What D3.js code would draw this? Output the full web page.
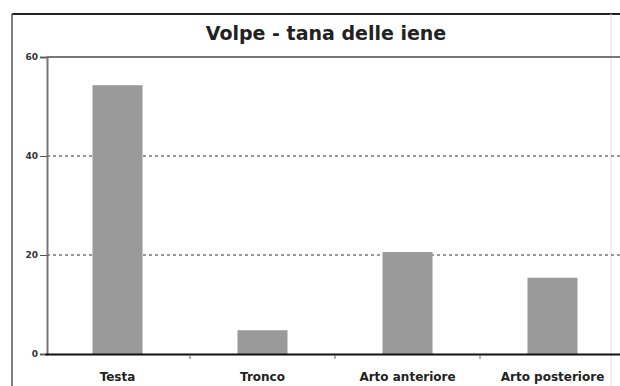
<!DOCTYPE html>
<html>
<head>
<meta charset="utf-8">
<script src="https://cdn.jsdelivr.net/npm/d3@7"></script>
<style>
  html, body { margin: 0; padding: 0; background: #fff; }
  svg { display: block; }
</style>
</head>
<body>
<svg id="chart" width="620" height="386"></svg>
<script>
// Reperti di volpe dalla tana delle iene, per parte anatomica
const title = "Volpe - tana delle iene";
const categories = ["Testa", "Tronco", "Arto anteriore", "Arto posteriore"];
const values = [54.3, 4.8, 20.6, 15.4];
const yTicks = [0, 20, 40, 60];

const svg = d3.select("#chart");
const W = 620, H = 386;
const plot = { left: 47, right: 612, top: 57, bottom: 354 };

const x = d3.scaleBand().domain(categories).range([45, 625]);
const y = d3.scaleLinear().domain([0, 60]).range([plot.bottom, plot.top]);
const barW = x.bandwidth() * 0.345;

// outer frame
svg.append("line").attr("x1", 12).attr("x2", W).attr("y1", 14).attr("y2", 14)
  .attr("stroke", "#222").attr("stroke-width", 2);
svg.append("line").attr("x1", 12).attr("x2", 12).attr("y1", 14).attr("y2", H)
  .attr("stroke", "#555").attr("stroke-width", 1.5);
svg.append("line").attr("x1", 611).attr("x2", 611).attr("y1", 14).attr("y2", H)
  .attr("stroke", "#ddd").attr("stroke-width", 1);

// title
svg.append("text")
  .attr("x", 326).attr("y", 40)
  .attr("text-anchor", "middle")
  .attr("font-family", "'DejaVu Sans', sans-serif")
  .attr("font-weight", "bold")
  .attr("font-size", 19)
  .attr("fill", "#222")
  .text(title);

// dashed gridlines at intermediate ticks
svg.append("g").selectAll("line")
  .data(yTicks.filter(d => d > 0 && d < 60))
  .join("line")
  .attr("x1", plot.left).attr("x2", W)
  .attr("y1", d => y(d)).attr("y2", d => y(d))
  .attr("stroke", "#777").attr("stroke-width", 1.5)
  .attr("stroke-dasharray", "3,3");

// top border of plot area
svg.append("line").attr("x1", plot.left).attr("x2", W)
  .attr("y1", y(60)).attr("y2", y(60))
  .attr("stroke", "#777").attr("stroke-width", 2);

// bars
svg.append("g").selectAll("rect")
  .data(categories.map((c, i) => ({ c, v: values[i] })))
  .join("rect")
  .attr("x", d => x(d.c) + (x.bandwidth() - barW) / 2)
  .attr("width", barW)
  .attr("y", d => y(d.v))
  .attr("height", d => y(0) - y(d.v))
  .attr("fill", "#9a9a9a");

// y axis
const yAxis = svg.append("g")
  .attr("transform", `translate(${plot.left},0)`)
  .call(d3.axisLeft(y).tickValues(yTicks).tickSize(7).tickPadding(2));
yAxis.select(".domain").attr("stroke", "#777").attr("stroke-width", 2);
yAxis.selectAll(".tick line").attr("stroke", "#555");
yAxis.selectAll(".tick text")
  .attr("font-family", "'DejaVu Sans', sans-serif")
  .attr("font-weight", "bold")
  .attr("font-size", 9)
  .attr("fill", "#333");

// x axis
const xAxis = svg.append("g")
  .attr("transform", `translate(0,${plot.bottom})`)
  .call(d3.axisBottom(x).tickSize(0).tickPadding(18));
xAxis.select(".domain").attr("stroke", "#111").attr("stroke-width", 2);
xAxis.selectAll(".tick text")
  .attr("font-family", "'DejaVu Sans', sans-serif")
  .attr("font-weight", "bold")
  .attr("font-size", 12)
  .attr("fill", "#222");

// small separators between categories below the axis
svg.append("g").selectAll("line")
  .data(categories.slice(1))
  .join("line")
  .attr("x1", d => x(d)).attr("x2", d => x(d))
  .attr("y1", plot.bottom + 1).attr("y2", plot.bottom + 5)
  .attr("stroke", "#666").attr("stroke-width", 1);
</script>
</body>
</html>
